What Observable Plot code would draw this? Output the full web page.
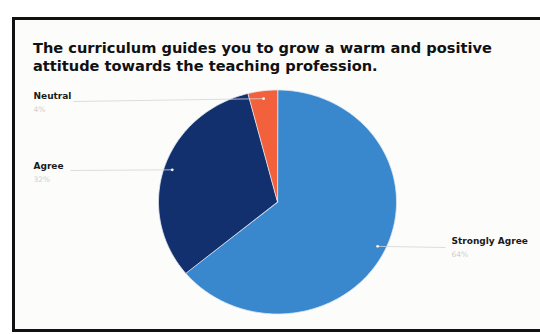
<!DOCTYPE html>
<html><head><meta charset="utf-8">
<script src="https://cdn.jsdelivr.net/npm/d3@7"></script>
<script src="https://cdn.jsdelivr.net/npm/@observablehq/plot@0.6"></script>
<style>
html,body{margin:0;padding:0;background:#fff;width:540px;height:334px;overflow:hidden;position:relative;font-family:"DejaVu Sans",sans-serif}
#frame{position:absolute;left:12px;top:17px;width:540px;height:315px;border:3px solid #111;border-right:none;box-sizing:border-box;background:#fcfcfb}
#title{position:absolute;left:33px;top:39px;font-weight:bold;font-size:14.6px;line-height:18px;color:#111;white-space:nowrap}
#chart{position:absolute;left:0;top:0}
</style></head><body>
<div id="frame"></div>
<div id="title">The curriculum guides you to grow a warm and positive<br>attitude towards the teaching profession.</div>
<div id="chart"></div>
<script>
// Data
const categories = ["Strongly Agree", "Agree", "Neutral"];
const counts = [16, 8, 1];
const percentLabels = ["64%", "32%", "4%"];
const colors = ["#3987cc", "#12306e", "#f2603c"];

// Layout
const cx = 277, cy = 201.5, rx = 119, ry = 112;
const labelPos = [ // pixel anchor for each label (layout)
  {x: 451, y: 241, lineX: 445, lineY: 247},
  {x: 33, y: 166, lineX: 70, lineY: 170},
  {x: 33, y: 96, lineX: 73, lineY: 101}
];
const ux = px => (px - cx) / rx;
const uy = py => (cy - py) / ry;

const arcs = d3.pie().sort(null).value(d => d.count)(
  categories.map((c, i) => ({category: c, count: counts[i], pct: percentLabels[i], i}))
);

// slice outlines
const slicePts = [];
for (const a of arcs) {
  slicePts.push({category: a.data.category, x: 0, y: 0});
  const n = Math.max(4, Math.ceil((a.endAngle - a.startAngle) / 0.02));
  for (let k = 0; k <= n; k++) {
    const t = a.startAngle + (a.endAngle - a.startAngle) * k / n;
    slicePts.push({category: a.data.category, x: Math.sin(t), y: Math.cos(t)});
  }
}

const labels = arcs.map(a => {
  const mid = (a.startAngle + a.endAngle) / 2;
  const L = labelPos[a.data.i];
  return {
    category: a.data.category, pct: a.data.pct,
    dx: 0.93 * Math.sin(mid), dy: 0.93 * Math.cos(mid),
    lx: ux(L.x), ly: uy(L.y), lineX: ux(L.lineX), lineY: uy(L.lineY), valY: uy(L.y + 13)
  };
});

const chart = Plot.plot({
  width: 540, height: 334, margin: 0,
  style: {background: "transparent", fontFamily: "DejaVu Sans, sans-serif"},
  x: {domain: [-1, 1], range: [cx - rx, cx + rx], axis: null},
  y: {domain: [-1, 1], range: [cy + ry, cy - ry], axis: null},
  color: {domain: categories, range: colors},
  marks: [
    Plot.line(slicePts, {x: "x", y: "y", z: "category", fill: "category", stroke: "#dfe8f2", strokeWidth: 0.8, curve: "linear-closed"}),
    Plot.link(labels, {x1: "dx", y1: "dy", x2: "lineX", y2: "lineY", stroke: "#d4d4d4", strokeWidth: 0.8}),
    Plot.dot(labels, {x: "dx", y: "dy", r: 1.4, fill: "#f4f4f4"}),
    Plot.text(labels, {x: "lx", y: "ly", text: "category", textAnchor: "start", fontWeight: "bold", fontSize: 9, fill: "#1a1a1a"}),
    Plot.text(labels, {x: "lx", y: "valY", text: "pct", textAnchor: "start", fontSize: 7.5, fill: "#cfcfcf"})
  ]
});
document.getElementById("chart").appendChild(chart);
</script>
</body></html>
